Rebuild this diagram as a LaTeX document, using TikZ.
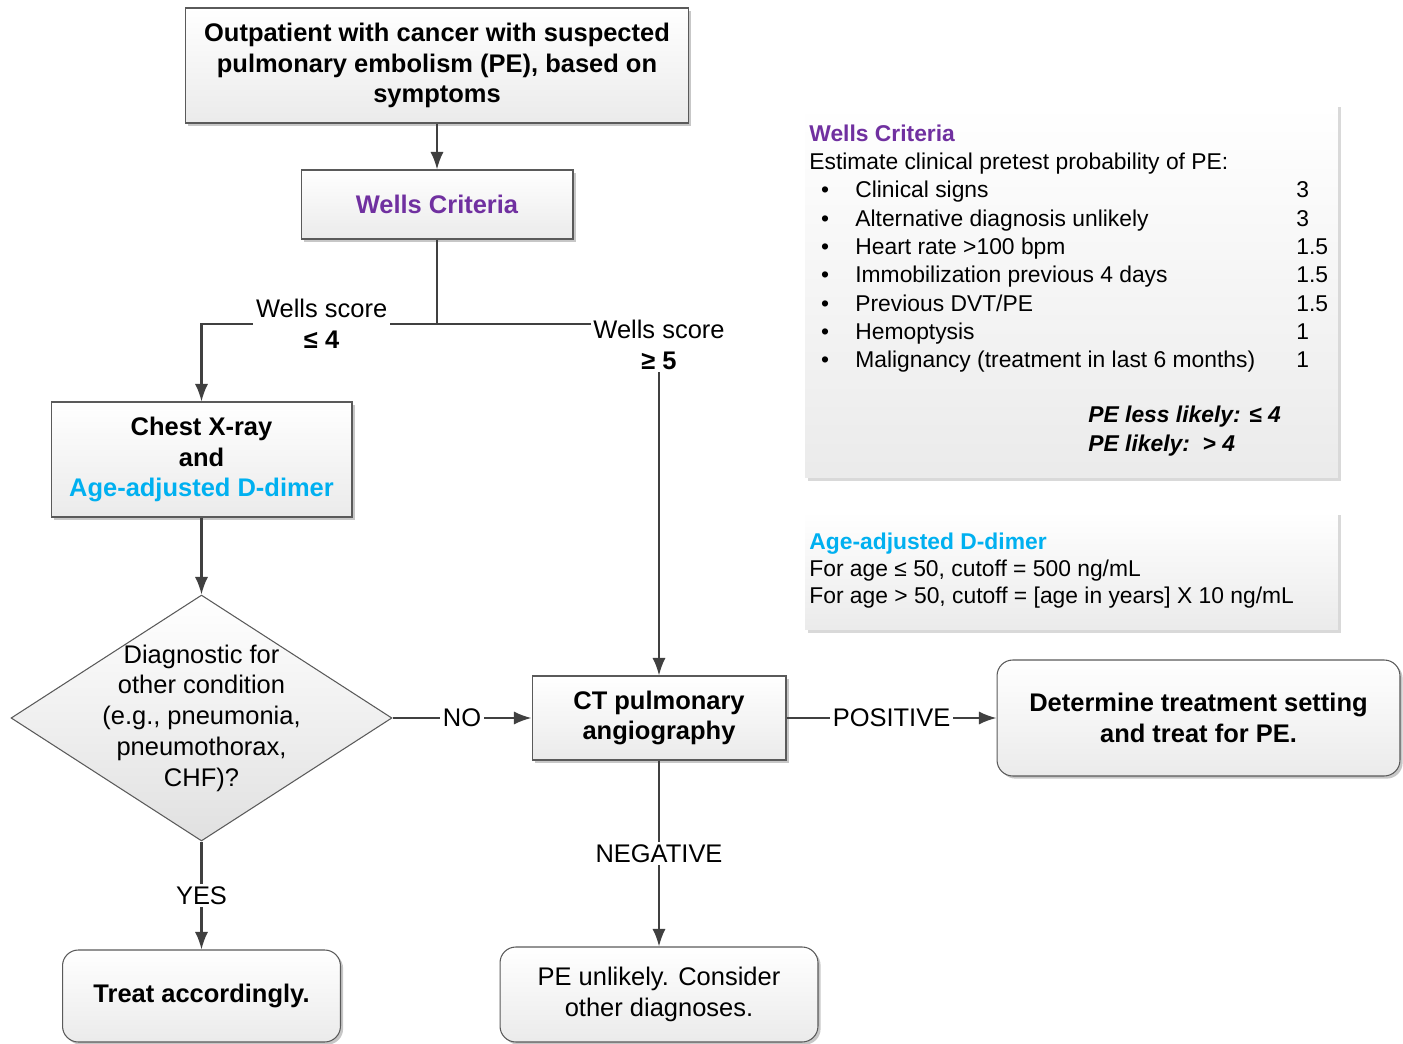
\documentclass[tikz,border=0pt]{standalone}
\usepackage{fontspec}
\setmainfont{Liberation Sans}
\usetikzlibrary{arrows.meta, shapes.geometric, shadows}
\definecolor{wellspurple}{RGB}{112,48,160}
\definecolor{dimercyan}{RGB}{0,176,240}
\definecolor{linegray}{RGB}{64,64,64}
\definecolor{edgegray}{RGB}{90,90,90}

\begin{document}
\begin{tikzpicture}[x=0.02cm, y=-0.02cm,
  box/.style={rectangle, draw=edgegray, line width=0.6pt, top color=white, bottom color=black!8,
    drop shadow={shadow xshift=1.5pt, shadow yshift=-1.5pt, fill=black!22, opacity=1},
    align=center, inner sep=2pt, font=\fontsize{14.5}{17.5}\selectfont\bfseries},
  rbox/.style={box, rounded corners=9pt},
  dia/.style={diamond, draw=edgegray, line width=0.6pt, top color=white, bottom color=black!12, inner sep=0pt},
  arr/.style={draw=linegray, line width=1.2pt, -{Latex[length=10pt,width=7.5pt]}},
  flowtxt/.style={align=center, inner sep=1.5pt, font=\fontsize{14.5}{17.5}\selectfont},
  lbl/.style={flowtxt, fill=white},
  panel/.style={rectangle, top color=white, bottom color=black!8,
    drop shadow={shadow xshift=1.7pt, shadow yshift=-1.7pt, fill=black!15, opacity=1}},
  ptxt/.style={anchor=base west, inner sep=0pt, font=\fontsize{13}{15.9}\selectfont},
  ptitle/.style={ptxt, font=\fontsize{13}{15.9}\selectfont\bfseries},
]
\useasboundingbox (0,0) rectangle (1403,1044);

\node[box, minimum width=10.06cm, minimum height=2.3cm] (start) at (437,65.5) {Outpatient with cancer with suspected\\pulmonary embolism (PE), based on\\symptoms};
\node[box, minimum width=5.44cm, minimum height=1.38cm, text=wellspurple] (wells) at (437,204.5) {Wells Criteria};
\node[box, minimum width=6.02cm, minimum height=2.3cm] (chest) at (201.5,459.5) {Chest X-ray\\and\\\textcolor{dimercyan}{Age-adjusted D-dimer}};
\node[dia, minimum width=7.62cm, minimum height=4.92cm] (diag) at (201.5,718) {};
\node[flowtxt] (diagtext) at (diag.center) {Diagnostic for\\other condition\\(e.g., pneumonia,\\pneumothorax,\\CHF)?};
\node[box, minimum width=5.08cm, minimum height=1.68cm] (ct) at (659,718) {CT pulmonary\\angiography};
\node[rbox, minimum width=8.06cm, minimum height=2.32cm] (ptreat) at (1198.5,718) {Determine treatment setting\\and treat for PE.};
\node[rbox, minimum width=6.36cm, minimum height=1.9cm, font=\fontsize{14.5}{17.5}\selectfont] (unlikely) at (659,994.5) {PE unlikely. Consider\\other diagnoses.};
\node[rbox, minimum width=5.56cm, minimum height=1.84cm] (treat) at (201.5,996) {Treat accordingly.};

\coordinate (split) at (437,324);
\draw[arr] (start) -- (wells);
\draw[draw=linegray, line width=1.2pt] (wells) -- (split);
\draw[arr] (split) -| node[lbl, pos=0.245] (lowlbl) {Wells score\\\textbf{≤ 4}} (chest);
\draw[arr] (split) -| node[lbl, yshift=-12pt] (highlbl) {Wells score\\\textbf{≥ 5}} (ct);
\draw[arr] (chest) -- (diag);
\draw[arr] (diag) -- node[lbl] (nolbl) {NO} (ct);
\draw[arr] (diag) -- node[lbl] (yeslbl) {YES} (treat);
\draw[arr] (ct) -- node[lbl] (poslbl) {POSITIVE} (ptreat);
\draw[arr] (ct) -- node[lbl] (neglbl) {NEGATIVE} (unlikely);

\node[panel, minimum width=10.66cm, minimum height=7.48cm] (wellspanel) at (1071.5,291) {};
\node[panel, minimum width=10.66cm, minimum height=2.36cm] (dimerpanel) at (1071.5,571) {};

\node[ptitle, text=wellspurple] (wellstitle) at (809,141.5) {Wells Criteria};
\node[ptxt] (wellsintro) at (809,170) {Estimate clinical pretest probability of PE:};
\foreach \crit/\pts [count=\i] in {Clinical signs/3, Alternative diagnosis unlikely/3, Heart rate >100 bpm/1.5, Immobilization previous 4 days/1.5, {Previous DVT/PE}/1.5, Hemoptysis/1, Malignancy (treatment in last 6 months)/1}{
  \node[ptxt, anchor=base] (dot\i) at ({825},{198+28.3*(\i-1)}) {•};
  \node[ptxt] (crit\i) at ({855},{198+28.3*(\i-1)}) {\crit};
  \node[ptxt] (pts\i) at ({1296},{198+28.3*(\i-1)}) {\pts};
}
\node[ptxt, font=\fontsize{13}{15.9}\selectfont\bfseries\itshape] (lesslikely) at (1088,422.7) {PE less likely: ≤ 4};
\node[ptxt, font=\fontsize{13}{15.9}\selectfont\bfseries\itshape] (likely) at (1088,451) {PE likely:\ \ > 4};

\node[ptitle, text=dimercyan] (dimertitle) at (809,549) {Age-adjusted D-dimer};
\node[ptxt] (dimerlow) at (809,576) {For age ≤ 50, cutoff = 500 ng/mL};
\node[ptxt] (dimerhigh) at (809,603) {For age > 50, cutoff = [age in years] X 10 ng/mL};
\end{tikzpicture}
\end{document}
